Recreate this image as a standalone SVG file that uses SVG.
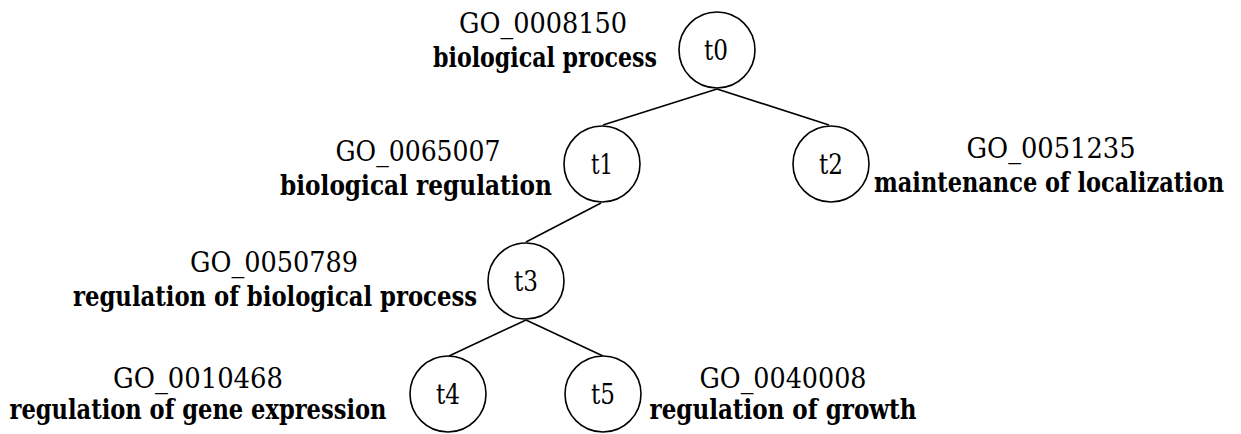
<svg xmlns="http://www.w3.org/2000/svg" width="1241" height="434" viewBox="0 0 1241 434">
<style>
.n{fill:#fff;stroke:#000;stroke-width:1.6}
.e{stroke:#000;stroke-width:1.6;fill:none}
text{font-family:'DejaVu Serif Condensed','DejaVu Serif',serif;font-size:27px;fill:#000;text-anchor:middle}
.nm{font-weight:bold}
</style>
<rect width="1241" height="434" fill="#fff"/>
<g id="connectors">
<line class="e" x1="717" y1="89" x2="603" y2="125"/>
<line class="e" x1="717" y1="89" x2="829" y2="125"/>
<line class="e" x1="601" y1="203" x2="526" y2="242"/>
<line class="e" x1="526" y1="320" x2="449" y2="356"/>
<line class="e" x1="526" y1="320" x2="603" y2="356"/>
</g>
<g id="t0">
<circle class="n" cx="717" cy="50" r="38"/>
<text x="716" y="60" textLength="24" lengthAdjust="spacingAndGlyphs">t0</text>
<text x="543" y="33" textLength="168" lengthAdjust="spacingAndGlyphs">GO_0008150</text>
<text class="nm" x="545" y="67" textLength="224" lengthAdjust="spacingAndGlyphs">biological process</text>
</g>
<g id="t1">
<circle class="n" cx="602" cy="164" r="38"/>
<text x="602" y="174" textLength="22" lengthAdjust="spacingAndGlyphs">t1</text>
<text x="418" y="161" textLength="165" lengthAdjust="spacingAndGlyphs">GO_0065007</text>
<text class="nm" x="416" y="195" textLength="272" lengthAdjust="spacingAndGlyphs">biological regulation</text>
</g>
<g id="t2">
<circle class="n" cx="831" cy="164" r="38"/>
<text x="831" y="174" textLength="24" lengthAdjust="spacingAndGlyphs">t2</text>
<text x="1051" y="158" textLength="169" lengthAdjust="spacingAndGlyphs">GO_0051235</text>
<text class="nm" x="1049" y="192" textLength="350" lengthAdjust="spacingAndGlyphs">maintenance of localization</text>
</g>
<g id="t3">
<circle class="n" cx="526" cy="281" r="38"/>
<text x="526" y="291" textLength="24" lengthAdjust="spacingAndGlyphs">t3</text>
<text x="274" y="272" textLength="168" lengthAdjust="spacingAndGlyphs">GO_0050789</text>
<text class="nm" x="275" y="306" textLength="404" lengthAdjust="spacingAndGlyphs">regulation of biological process</text>
</g>
<g id="t4">
<circle class="n" cx="448" cy="394" r="38"/>
<text x="448" y="404" textLength="24" lengthAdjust="spacingAndGlyphs">t4</text>
<text x="198" y="388" textLength="170" lengthAdjust="spacingAndGlyphs">GO_0010468</text>
<text class="nm" x="198" y="419" textLength="377" lengthAdjust="spacingAndGlyphs">regulation of gene expression</text>
</g>
<g id="t5">
<circle class="n" cx="603" cy="394" r="38"/>
<text x="603" y="404" textLength="24" lengthAdjust="spacingAndGlyphs">t5</text>
<text x="783" y="388" textLength="167" lengthAdjust="spacingAndGlyphs">GO_0040008</text>
<text class="nm" x="783" y="419" textLength="267" lengthAdjust="spacingAndGlyphs">regulation of growth</text>
</g>
</svg>
